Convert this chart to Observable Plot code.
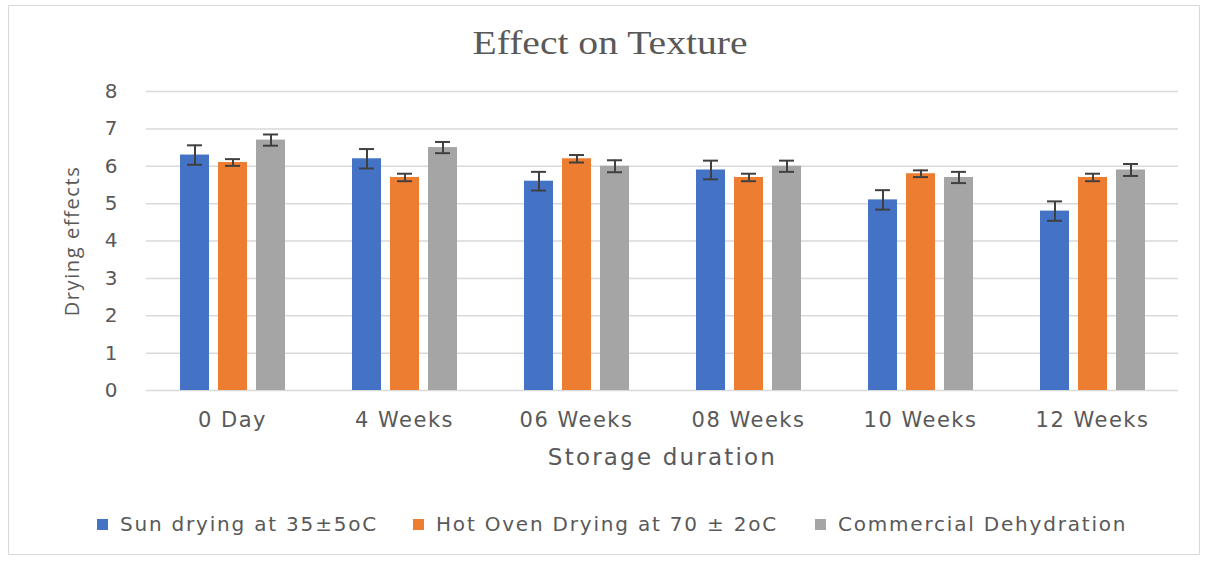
<!DOCTYPE html>
<html><head><meta charset="utf-8">
<script src="https://cdn.jsdelivr.net/npm/d3@7"></script>
<script src="https://cdn.jsdelivr.net/npm/@observablehq/plot@0.6"></script>
<style>
body{margin:0;background:#fff;width:1207px;height:561px;position:relative;overflow:hidden;}
#frame{position:absolute;left:8px;top:5px;width:1192px;height:550px;border:1px solid #d9d9d9;box-sizing:border-box;}
#title{position:absolute;top:25px;left:0;width:1220px;text-align:center;font-family:"Liberation Serif",serif;font-size:33px;color:#595959;transform:scaleX(1.2);transform-origin:610px 0;}
#chart{position:absolute;top:70px;left:0;}
#legend{position:absolute;top:512px;left:0;width:1207px;height:28px;font-family:"DejaVu Sans",sans-serif;font-size:20px;letter-spacing:1.8px;color:#595959;}
#legend .item{position:absolute;top:0;display:flex;align-items:center;gap:12px;white-space:nowrap;}
#legend .sw{width:11px;height:11px;display:inline-block;}
</style></head>
<body>
<div id="frame"></div>
<div id="title">Effect on Texture</div>
<div id="chart"></div>
<div id="legend"></div>
<script>
const categories = ["0 Day","4 Weeks","06 Weeks","08 Weeks","10 Weeks","12 Weeks"];
const seriesNames = ["Sun drying at 35±5oC","Hot Oven Drying at 70 ± 2oC","Commercial Dehydration"];
const sunValues = [6.3,6.2,5.6,5.9,5.1,4.8];
const ovenValues = [6.1,5.7,6.2,5.7,5.8,5.7];
const commercialValues = [6.7,6.5,6.0,6.0,5.7,5.9];
const sunErrors = [0.26,0.26,0.25,0.25,0.26,0.26];
const ovenErrors = [0.09,0.1,0.1,0.1,0.09,0.1];
const commercialErrors = [0.15,0.15,0.16,0.15,0.15,0.16];
const seriesColors = ["#4472C4","#ED7D31","#A5A5A5"];
const yTicks = [0,1,2,3,4,5,6,7,8];

const valueSets = [sunValues, ovenValues, commercialValues];
const errorSets = [sunErrors, ovenErrors, commercialErrors];
const rows = [];
categories.forEach((c, i) => {
  seriesNames.forEach((s, j) => {
    rows.push({category: c, series: s, value: valueSets[j][i], err: errorSets[j][i]});
  });
});

const chart = Plot.plot({
  width: 1207,
  height: 400,
  marginTop: 21,
  marginBottom: 80,
  marginLeft: 145,
  marginRight: 29,
  style: {fontFamily: "'DejaVu Sans', sans-serif", color: "#595959", background: "transparent"},
  fx: {domain: categories, padding: 0},
  x: {domain: seriesNames, paddingInner: 0.25, paddingOuter: 0.86, axis: null},
  y: {domain: [0, 8]},
  color: {domain: seriesNames, range: seriesColors},
  marks: [
    Plot.gridY(yTicks, {stroke: "#d9d9d9", strokeOpacity: 1, strokeWidth: 1.5}),
    Plot.axisY(yTicks, {tickSize: 0, tickPadding: 29, fontSize: 20, label: null}),
    Plot.axisY([], {label: "Drying effects", labelAnchor: "center", labelOffset: 82, labelArrow: false, fontSize: 20, tickSize: 0, fontFamily: "'Open Sans', sans-serif"}),
    Plot.axisFx({anchor: "bottom", tickSize: 0, tickPadding: 22, fontSize: 21, label: null}),
    Plot.axisFx([], {anchor: "bottom", tickSize: 0, label: "Storage duration", labelAnchor: "center", labelOffset: 74, labelArrow: false, fontSize: 23}),
    Plot.barY(rows, {fx: "category", x: "series", y: "value", fill: "series"}),
    Plot.ruleX(rows, {fx: "category", x: "series", y1: d => d.value - d.err, y2: d => d.value + d.err, stroke: "#404040", strokeWidth: 2}),
    Plot.tickY(rows, {fx: "category", x: "series", y: d => d.value - d.err, stroke: "#404040", strokeWidth: 2, insetLeft: 7, insetRight: 7}),
    Plot.tickY(rows, {fx: "category", x: "series", y: d => d.value + d.err, stroke: "#404040", strokeWidth: 2, insetLeft: 7, insetRight: 7})
  ]
});
document.getElementById("chart").appendChild(chart);
const svg = d3.select(chart);
svg.selectAll('[aria-label="fx-axis tick label"] text').style("letter-spacing", "1.5px");
svg.selectAll('[aria-label="fx-axis label"] text').style("letter-spacing", "2.2px");
svg.selectAll('[aria-label="y-axis label"] text').style("letter-spacing", "1.6px");

const legend = document.getElementById("legend");
const legendLeft = [97, 413, 815];
seriesNames.forEach((s, j) => {
  const item = document.createElement("div");
  item.className = "item";
  item.style.left = legendLeft[j] + "px";
  const sw = document.createElement("span");
  sw.className = "sw";
  sw.style.background = seriesColors[j];
  const t = document.createElement("span");
  t.textContent = s;
  item.appendChild(sw);
  item.appendChild(t);
  legend.appendChild(item);
});
</script>
</body></html>
